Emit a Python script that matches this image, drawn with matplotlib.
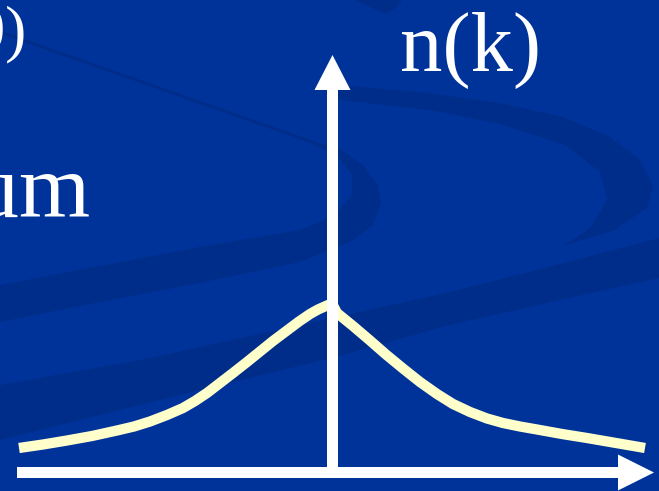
import matplotlib
matplotlib.use("Agg")
import matplotlib.pyplot as plt
from matplotlib.patches import Polygon, FancyArrow

# Curve n(k) (pixel coords, y down)
left_x = [19, 43, 67, 92, 117, 134, 150, 167, 183, 195, 207, 220, 233, 247, 260, 273, 287, 299, 310, 318, 327, 332]
left_y = [448, 444.5, 440.5, 436, 430.5, 426.5, 421.5, 415, 408, 401, 393, 383, 373, 362, 351.5, 341, 330.5, 321.5, 314, 309.5, 305.5, 303.5]
right_x = [337, 353, 370, 386, 403, 420, 437, 453, 470, 487, 503, 520, 537, 562, 587, 616, 645]
right_y = [313, 326, 340.5, 354.5, 368.5, 382, 394, 404, 412, 418.5, 423, 426.5, 429.5, 434, 438, 443, 448]

curve_x = left_x + right_x
curve_y = left_y + right_y

# axes arrows
x_axis = (17, 654, 472.5)   # x start, tip, y
y_axis = (332.5, 470, 55)   # x, y start, tip

BG = "#003399"
BAND = "#002d8a"

# background swooshes
crescent1 = [(315, 142), (340, 149), (363, 165), (378, 185), (381, 203), (373, 225),
             (350, 242), (300, 262), (200, 283), (100, 302), (0, 322),
             (0, 285), (100, 266), (200, 247), (300, 230), (335, 215), (352, 195),
             (352, 175), (338, 157), (315, 145)]
crescent2 = [(338, 85), (420, 92), (500, 103), (563, 117), (610, 137), (640, 160),
             (653, 185), (648, 207), (615, 230), (563, 246),
             (590, 228), (607, 200), (600, 172), (565, 145), (500, 124), (430, 110), (338, 100)]
band3 = [(0, 385), (150, 358), (332, 318), (450, 292), (560, 264), (659, 238),
         (659, 278), (560, 300), (450, 325), (332, 358), (200, 390), (100, 415), (0, 440)]
sliver = [(355, 0), (402, 0), (396, 8), (385, 14), (372, 8)]

fig = plt.figure(figsize=(6.59, 4.91), dpi=100, facecolor=BG)
ax = fig.add_axes([0, 0, 1, 1])
ax.set_facecolor(BG)
ax.set_xlim(0, 659)
ax.set_ylim(491, 0)
ax.axis("off")

for poly in (crescent1, crescent2, band3, sliver):
    ax.add_patch(Polygon(poly, closed=True, facecolor=BAND, edgecolor="none", zorder=1))
ax.plot([0, 315], [32, 143], color=BAND, lw=2.2, zorder=1)

# the curve
ax.plot(curve_x, curve_y, color="#ffffcc", lw=7.4, solid_capstyle="butt",
        solid_joinstyle="round", zorder=3)

# arrows
ax.add_patch(FancyArrow(x_axis[0], x_axis[2], x_axis[1] - x_axis[0], 0, width=11,
                        head_width=36, head_length=36, length_includes_head=True,
                        color="white", lw=0, zorder=4))
ax.add_patch(FancyArrow(y_axis[0], y_axis[1], 0, y_axis[2] - y_axis[1], width=11,
                        head_width=36, head_length=35, length_includes_head=True,
                        color="white", lw=0, zorder=4))

# text
serif = ["Liberation Serif", "DejaVu Serif"]
ax.text(400, 71, "n(k)", color="white", fontsize=61, family=serif,
        ha="left", va="baseline", zorder=5)
ax.text(90, 217, "Momentum", color="white", fontsize=66, family=serif,
        ha="right", va="baseline", zorder=5)
ax.text(27, 49, "n(0)", color="white", fontsize=46, family=serif,
        ha="right", va="baseline", zorder=5)

fig.savefig("out.png", dpi=100, facecolor=BG)
